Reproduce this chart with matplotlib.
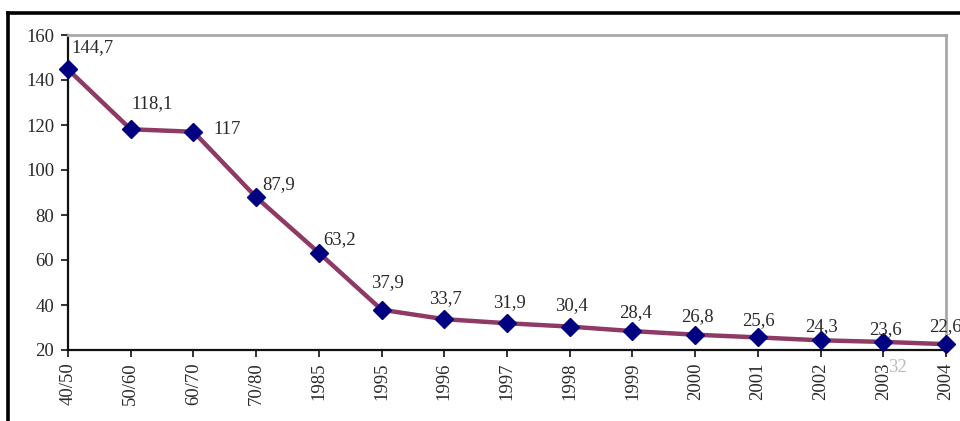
import matplotlib
matplotlib.use("Agg")
import matplotlib.pyplot as plt
from matplotlib.lines import Line2D

# Period / year categories and values
periods = ["40/50", "50/60", "60/70", "70/80", "1985", "1995", "1996", "1997",
           "1998", "1999", "2000", "2001", "2002", "2003", "2004"]
values = [144.7, 118.1, 117, 87.9, 63.2, 37.9, 33.7, 31.9, 30.4, 28.4,
          26.8, 25.6, 24.3, 23.6, 22.6]
y_ticks = [20, 40, 60, 80, 100, 120, 140, 160]

# Label placement (pixel offsets from each point)
label_offsets = [(24, 22), (21, 26), (34, 2), (22, 13), (21, 13), (6, 27),
                 (1, 21), (2, 21), (2, 21), (3, 19), (2, 18), (1, 17),
                 (1, 14), (2, 12), (-1, 18)]

plt.rcParams["font.family"] = ["Liberation Serif", "DejaVu Serif"]
FS = 13.5

fig = plt.figure(figsize=(9.6, 4.21), dpi=100)
ax = fig.add_axes([68 / 960, 1 - 350 / 421, (946 - 68) / 960, (350 - 35) / 421])

x = list(range(len(periods)))
ax.plot(x, values, color="#8E3A64", linewidth=3.2, zorder=2, clip_on=False)
ax.plot(x, values, linestyle="none", marker="D", markersize=9.5,
        color="#000080", zorder=3, clip_on=False)

def fmt(v):
    s = f"{v:.1f}"
    if s.endswith(".0"):
        s = s[:-2]
    return s.replace(".", ",")

for xi, v, (dx, dy) in zip(x, values, label_offsets):
    ax.annotate(fmt(v), (xi, v), xytext=(dx, dy), textcoords="offset pixels",
                ha="center", va="center", fontsize=FS, color="#2A2A2A",
                zorder=4)

ax.set_xlim(0, len(periods) - 1)
ax.set_ylim(20, 160)
ax.set_yticks(y_ticks)
ax.set_yticklabels([str(t) for t in y_ticks], fontsize=FS)
ax.set_xticks(x)
ax.set_xticklabels(periods, rotation=90, fontsize=FS)

ax.tick_params(axis="both", direction="out", length=5, width=1.2,
               color="#111111", labelcolor="#2A2A2A")
ax.tick_params(axis="y", pad=5)
ax.tick_params(axis="x", pad=4)

for side in ("left", "bottom"):
    ax.spines[side].set_color("#111111")
    ax.spines[side].set_linewidth(1.6)
for side in ("top", "right"):
    ax.spines[side].set_color("#A8A8A8")
    ax.spines[side].set_linewidth(2)

# Page frame lines around the chart
fig.add_artist(Line2D([8 / 960, 8 / 960], [0, 1 - 13 / 421],
                      transform=fig.transFigure, color="black", linewidth=2.6))
fig.add_artist(Line2D([8 / 960, 1], [1 - 13 / 421, 1 - 13 / 421],
                      transform=fig.transFigure, color="black", linewidth=2.6))

# Page number
fig.text(897 / 960, 1 - 368 / 421, "32", fontsize=FS, color="#BBBBBB",
         ha="center", va="center")

fig.savefig("out.png", dpi=100)
